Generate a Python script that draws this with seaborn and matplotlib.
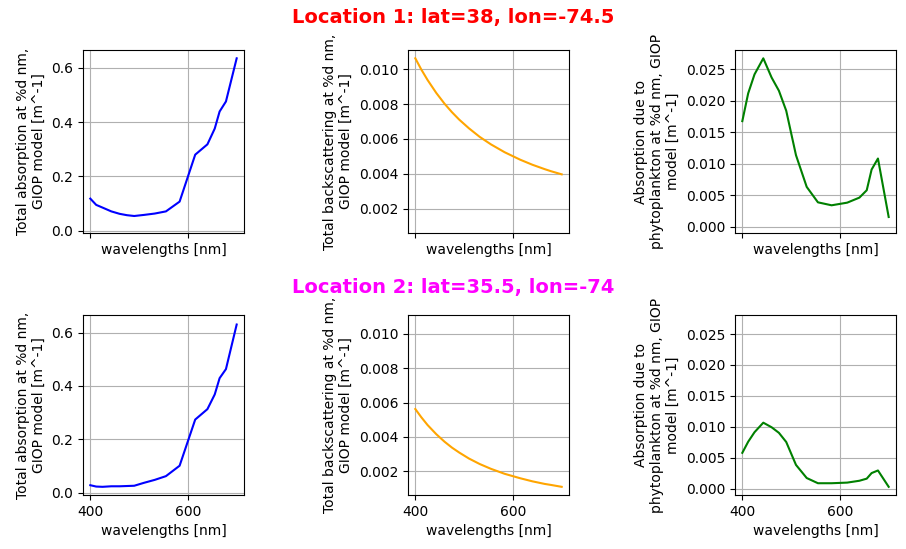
import matplotlib
matplotlib.use("Agg")
import matplotlib.pyplot as plt
import seaborn as sns
import pandas as pd

wavelengths = [400, 412, 425, 443, 460, 475, 490, 510, 532, 555, 583, 615, 640, 655, 665, 678, 700]

# Location 1
a_total_1 = [0.118, 0.095, 0.085, 0.071, 0.062, 0.057, 0.054, 0.058, 0.063, 0.071, 0.107,
             0.280, 0.318, 0.376, 0.439, 0.476, 0.635]
bb_total_1 = [0.01063, 0.01000, 0.00939, 0.00864, 0.00802, 0.00754, 0.00711, 0.00661, 0.00612,
              0.00569, 0.00524, 0.00481, 0.00452, 0.00437, 0.00427, 0.00415, 0.00397]
a_phy_1 = [0.01677, 0.02118, 0.02420, 0.02675, 0.02370, 0.02160, 0.01842, 0.01136, 0.00632,
           0.00387, 0.00340, 0.00382, 0.00462, 0.00579, 0.00908, 0.01083, 0.00154]

# Location 2
a_total_2 = [0.028, 0.023, 0.022, 0.024, 0.024, 0.025, 0.026, 0.037, 0.048, 0.062, 0.101,
             0.274, 0.313, 0.368, 0.429, 0.463, 0.630]
bb_total_2 = [0.00562, 0.00515, 0.00469, 0.00415, 0.00371, 0.00337, 0.00308, 0.00273, 0.00241,
              0.00213, 0.00184, 0.00158, 0.00140, 0.00131, 0.00125, 0.00119, 0.00108]
a_phy_2 = [0.00581, 0.00760, 0.00914, 0.01068, 0.00994, 0.00904, 0.00756, 0.00386, 0.00174,
           0.00090, 0.00090, 0.00100, 0.00130, 0.00164, 0.00254, 0.00296, 0.00032]

titles = ["Location 1: lat=38, lon=-74.5", "Location 2: lat=35.5, lon=-74"]
title_colors = ["red", "magenta"]
ylabels = ["Total absorption at %d nm,\nGIOP model [m^-1]",
           "Total backscattering at %d nm,\nGIOP model [m^-1]",
           "Absorption due to\nphytoplankton at %d nm, GIOP\nmodel [m^-1]"]
line_colors = ["blue", "orange", "green"]
xlabel = "wavelengths [nm]"

rows = [[a_total_1, bb_total_1, a_phy_1], [a_total_2, bb_total_2, a_phy_2]]

W, H = 906, 549
fig, axes = plt.subplots(2, 3, sharex=True, sharey='col', figsize=(W / 100, H / 100), dpi=100)

lefts = [83, 408, 735]
width = 161
row_boxes = [(50, 233), (315, 495)]

for r in range(2):
    for c in range(3):
        ax = axes[r][c]
        df = pd.DataFrame({"wl": wavelengths, "val": rows[r][c]})
        sns.lineplot(data=df, x="wl", y="val", ax=ax, color=line_colors[c], linewidth=1.5)
        ax.grid(True, color="#b0b0b0", linewidth=0.8)
        ax.set_axisbelow(True)
        ax.set_ylabel(ylabels[c], fontsize=10)
        ax.set_xlabel(xlabel, fontsize=10)
        ax.set_xticks([400, 600])
        top, bot = row_boxes[r]
        ax.set_position([lefts[c] / W, 1 - bot / H, width / W, (bot - top) / H])
    fig.text(0.5, 1 - (18 if r == 0 else 288) / H, titles[r], color=title_colors[r],
             fontsize=14, fontweight="bold", ha="center", va="center")

axes[0][1].set_yticks([0.002, 0.004, 0.006, 0.008, 0.010])
for ax in axes[0]:
    ax.tick_params(labelbottom=False)
    ax.xaxis.label.set_visible(True)

fig.savefig("out.png", dpi=100)
